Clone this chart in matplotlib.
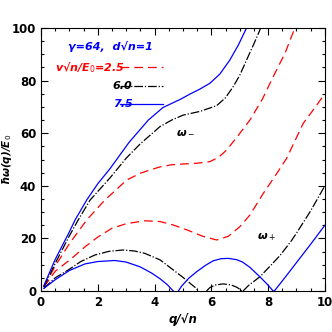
import matplotlib
matplotlib.use('Agg')
import matplotlib.pyplot as plt
from matplotlib.ticker import MultipleLocator

# v*sqrt(n)/E0 = 2.5 (red dashed)
q_red_up = [0.1, 0.5, 1.0, 1.61, 2.25, 3.02, 3.5, 3.84, 4.19, 4.6, 5.0, 5.5, 5.95, 6.25, 6.54, 6.9, 7.36, 7.8, 8.18, 8.6, 8.94]
w_red_up = [1.5, 9.5, 18.0, 27.0, 34.6, 42.2, 44.8, 46.0, 47.2, 48.0, 48.3, 48.6, 49.2, 50.8, 53.6, 58.5, 65.0, 73.0, 81.5, 90.5, 100.0]
q_red_lo = [0.1, 0.5, 1.08, 1.55, 2.0, 2.49, 3.0, 3.66, 4.2, 4.66, 5.2, 5.7, 6.19, 6.6, 7.0, 7.36, 7.83, 8.25, 8.65, 9.24, 9.6, 10.0]
w_red_lo = [1.5, 7.5, 12.4, 16.8, 20.5, 23.8, 25.6, 26.7, 26.4, 25.1, 23.0, 20.8, 19.4, 20.8, 24.4, 28.9, 37.1, 43.8, 50.4, 63.8, 69.0, 75.0]

# 6.0 (black dash-dot)
q_blk_up = [0.1, 0.5, 1.0, 1.31, 1.73, 2.43, 3.0, 3.5, 4.19, 4.6, 5.01, 5.6, 6.19, 6.5, 6.77, 7.0, 7.24, 7.5, 7.74]
w_blk_up = [1.5, 10.5, 21.0, 27.0, 34.6, 43.0, 50.5, 56.0, 62.5, 65.0, 66.9, 68.3, 70.5, 73.5, 77.7, 82.0, 87.8, 94.0, 100.0]
q_blk_lo = [0.1, 0.5, 0.96, 1.4, 1.9, 2.4, 2.9, 3.3, 3.66, 4.2, 4.66, 5.0, 5.3, 5.45, 5.55]
w_blk_lo = [1.0, 5.0, 8.0, 11.2, 13.7, 15.1, 15.6, 15.2, 14.3, 11.8, 8.0, 5.2, 2.5, 1.2, 0.0]
q_blk_mid = [5.83, 5.95, 6.15, 6.42, 6.7, 6.9, 7.0, 7.07]
w_blk_mid = [0.0, 1.3, 2.3, 2.7, 2.3, 1.4, 0.7, 0.0]
q_blk_hi = [7.12, 7.3, 7.71, 8.1, 8.42, 8.8, 9.0, 9.5, 10.0]
w_blk_hi = [0.0, 2.0, 5.4, 9.8, 13.5, 18.8, 22.0, 30.5, 40.0]

# 7.5 (blue solid)
q_blu_up = [0.1, 0.5, 1.0, 1.2, 1.61, 2.0, 2.43, 3.1, 3.78, 4.3, 4.89, 5.25, 5.6, 5.95, 6.3, 6.65, 6.95, 7.24]
w_blu_up = [2.0, 12.0, 22.5, 27.0, 34.6, 40.8, 46.5, 56.5, 65.0, 69.8, 72.8, 74.9, 76.8, 79.0, 82.5, 87.8, 93.5, 100.0]
q_blu_lo = [0.1, 0.49, 1.0, 1.55, 2.0, 2.6, 3.0, 3.49, 3.9, 4.2, 4.45, 4.66]
w_blu_lo = [1.0, 4.2, 7.8, 10.3, 11.2, 11.6, 11.0, 9.2, 6.8, 4.6, 2.4, 0.0]
q_blu_mid = [4.84, 4.95, 5.2, 5.48, 5.8, 6.07, 6.35, 6.6, 6.9, 7.1, 7.36, 7.71, 7.95, 8.18]
w_blu_mid = [0.0, 1.8, 4.8, 7.3, 9.8, 11.5, 12.3, 12.4, 11.9, 11.0, 9.0, 5.4, 2.8, 0.0]
q_blu_hi = [8.22, 8.6, 9.0, 9.5, 10.0]
w_blu_hi = [0.0, 5.2, 10.8, 17.8, 25.0]

fig = plt.figure(figsize=(3.32, 3.32), dpi=100)
ax = fig.add_axes([0.1235, 0.1235, 0.855, 0.792])

red_style = dict(color='red', lw=0.9, dashes=(7, 4))
blk_style = dict(color='black', lw=0.9, dashes=(7, 1.5, 1, 1.5))
blu_style = dict(color='blue', lw=0.9)

ax.plot(q_red_up, w_red_up, **red_style)
ax.plot(q_red_lo, w_red_lo, **red_style)
for q, w in [(q_blk_up, w_blk_up), (q_blk_lo, w_blk_lo), (q_blk_mid, w_blk_mid), (q_blk_hi, w_blk_hi)]:
    ax.plot(q, w, **blk_style)
for q, w in [(q_blu_up, w_blu_up), (q_blu_lo, w_blu_lo), (q_blu_mid, w_blu_mid), (q_blu_hi, w_blu_hi)]:
    ax.plot(q, w, **blu_style)

ax.set_xlim(0, 10)
ax.set_ylim(0, 100)
ax.xaxis.set_major_locator(MultipleLocator(2))
ax.xaxis.set_minor_locator(MultipleLocator(0.5))
ax.yaxis.set_major_locator(MultipleLocator(20))
ax.yaxis.set_minor_locator(MultipleLocator(5))
ax.tick_params(which='both', direction='in', top=True, right=True, labelsize=8.5)
ax.tick_params(which='major', length=5, width=0.8)
ax.tick_params(which='minor', length=2.5, width=0.8)
for lab in ax.get_xticklabels() + ax.get_yticklabels():
    lab.set_fontweight('bold')

ax.set_xlabel('q/√n', fontsize=8.5, style='italic', fontweight='bold', labelpad=3)
ax.set_ylabel('ħω(q)/E$_0$', fontsize=7.5, style='italic', fontweight='bold')
ax.yaxis.set_label_coords(-0.095, 0.5)

# legend drawn by hand
txt = dict(fontsize=8, style='italic', fontweight='bold', transform=ax.transAxes)
ax.text(0.095, 0.93, 'γ=64,  d√n=1', color='blue', ha='left', va='center', **txt)
ax.text(0.048, 0.85, 'v√n/E$_0$=2.5', color='red', ha='left', va='center', **txt)
ax.text(0.253, 0.78, '6.0', color='black', ha='left', va='center', **txt)
ax.text(0.253, 0.71, '7.5', color='blue', ha='left', va='center', **txt)
ax.plot([0.28, 0.43], [0.85, 0.85], transform=ax.transAxes, **red_style)
ax.plot([0.28, 0.43], [0.78, 0.78], transform=ax.transAxes, **blk_style)
ax.plot([0.28, 0.43], [0.71, 0.71], transform=ax.transAxes, **blu_style)

ax.text(5.1, 60.5, 'ω$_-$', fontsize=8, style='italic', fontweight='bold', ha='center', va='center')
ax.text(7.95, 20.5, 'ω$_+$', fontsize=8, style='italic', fontweight='bold', ha='center', va='center')

fig.savefig('out.png', dpi=100)
